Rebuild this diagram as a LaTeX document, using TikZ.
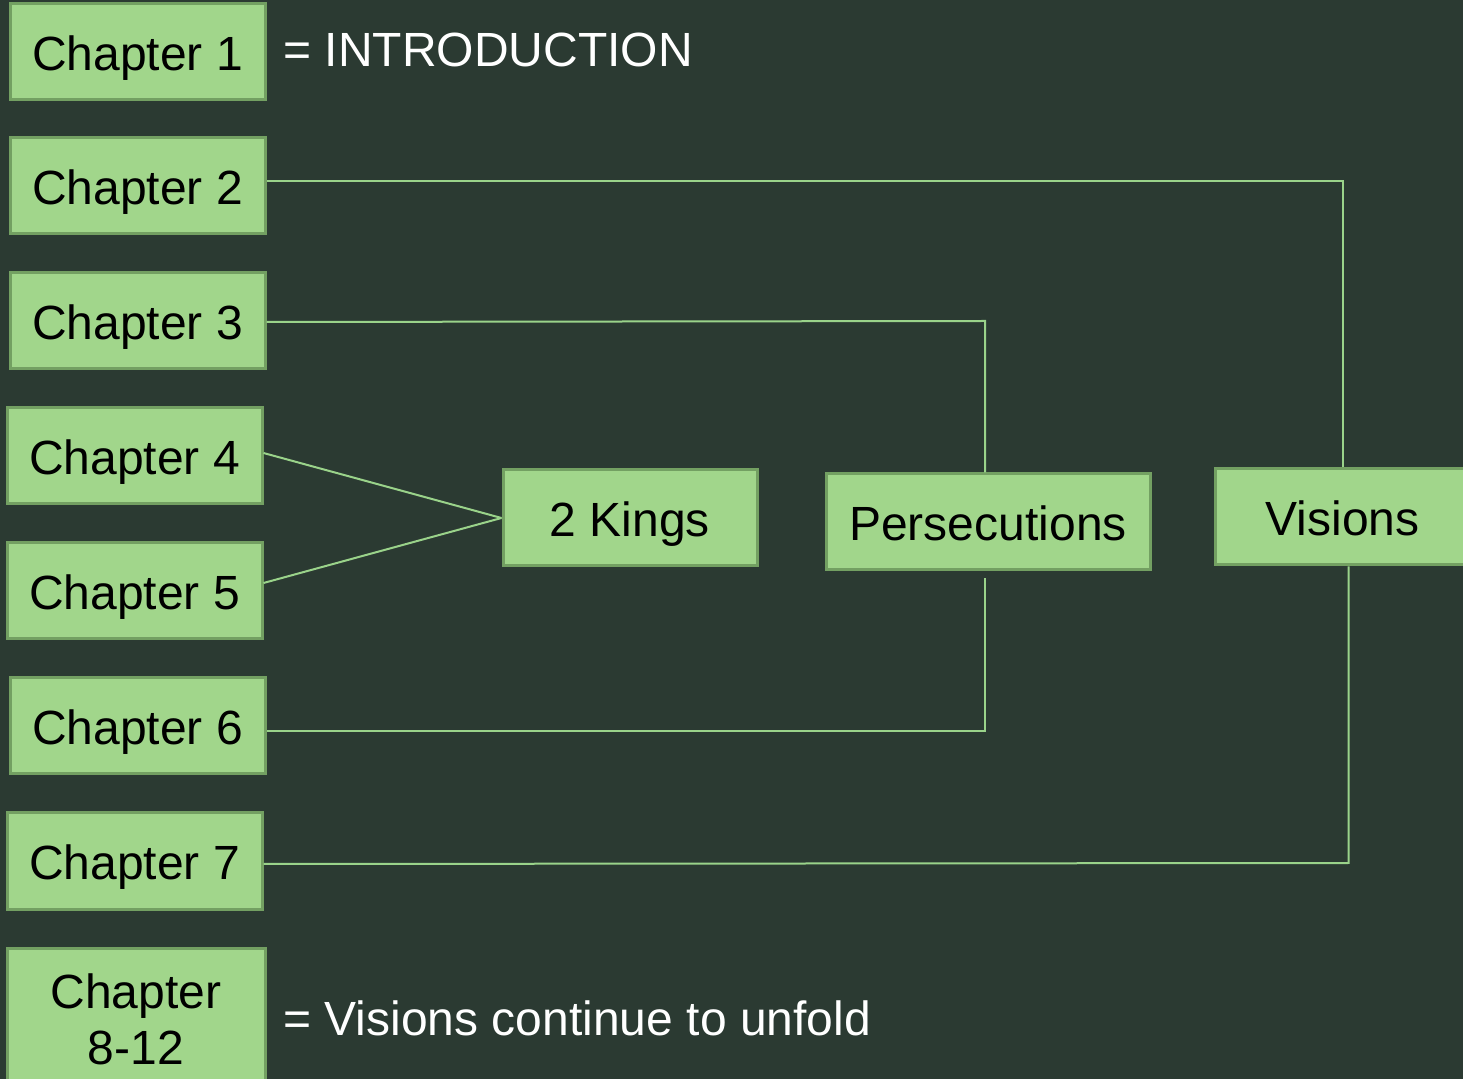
\documentclass[tikz,border=0pt]{standalone}
\usepackage{fontspec}
\setmainfont{Liberation Sans}
\definecolor{bg}{HTML}{2B3A32}
\definecolor{boxfill}{HTML}{A1D68B}
\definecolor{boxedge}{HTML}{73A062}
\definecolor{linkc}{HTML}{9AD38A}
\tikzset{
  box/.style={draw=boxedge, fill=boxfill, line width=1.5pt, inner sep=0pt,
    text=black, font=\fontsize{24}{28}\selectfont, align=center},
  onebox/.style={box, text height=18.5pt, text depth=0pt},
  chap/.style={onebox, minimum width=127.5pt, minimum height=48pt},
  link/.style={draw=linkc, line width=1pt},
  note/.style={text=white, font=\fontsize{24}{28}\selectfont, anchor=west, inner sep=0pt}
}
\begin{document}
\begin{tikzpicture}[x=0.5pt,y=-0.5pt]
\useasboundingbox (0,0) rectangle (1463,1079);
\fill[bg] (0,0) rectangle (1463,1079);
\clip (0,0) rectangle (1463,1079);
\node[chap] (c1) at (137.5,52) {Chapter 1};
\node[chap] (c2) at (137.5,186) {Chapter 2};
\node[chap] (c3) at (137.5,321) {Chapter 3};
\node[chap] (c4) at (134.5,456) {Chapter 4};
\node[chap] (c5) at (134.5,591) {Chapter 5};
\node[chap] (c6) at (137.5,726) {Chapter 6};
\node[chap] (c7) at (134.5,861) {Chapter 7};
\node[box, minimum width=129pt, minimum height=71pt] (c8) at (136,1019) {Chapter\\8-12};
\node[onebox, minimum width=127pt, minimum height=48pt] (kings) at (630,518) {2 Kings};
\node[onebox, minimum width=162pt, minimum height=48pt] (pers) at (988,522) {Persecutions};
\node[onebox, minimum width=127.5pt, minimum height=48pt] (vis) at (1342.5,517) {Visions};
\node[note] (n1) at (283,50) {= INTRODUCTION};
\node[note] (n8) at (283,1018) {= Visions continue to unfold};
\draw[link] ([yshift=2.5pt]c2.east) -- ([yshift=2.5pt]c2.east -| vis.north) -- (vis.north);
\draw[link] ([yshift=-0.5pt]c3.east) -- ([xshift=-1.5pt]c3.east -| pers.north) -- ([xshift=-1.5pt]pers.north);
\draw[link] ([yshift=1.5pt]c4.east) -- (kings.west);
\draw[link] ([yshift=4pt]c5.east) -- (kings.west);
\draw[link] ([xshift=-1.5pt,yshift=-3.5pt]pers.south) -- ([xshift=-1.5pt,yshift=-2.5pt]pers.south |- c6.east) -- ([yshift=-2.5pt]c6.east);
\draw[link] ([xshift=3pt]vis.south) -- ([xshift=3pt,yshift=-1pt]vis.south |- c7.east) -- ([yshift=-1.5pt]c7.east);
\end{tikzpicture}
\end{document}
